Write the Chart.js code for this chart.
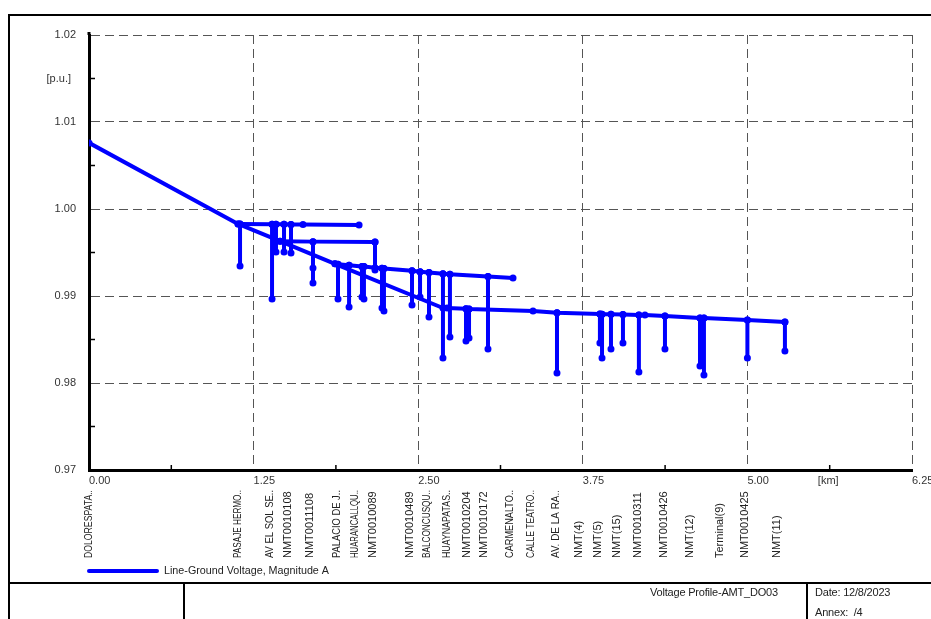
<!DOCTYPE html>
<html lang="en">
<head>
<meta charset="UTF-8" />
<title>Voltage Profile-AMT_DO03</title>
<script src="https://cdn.jsdelivr.net/npm/chart.js"></script>
<style>
  body {
    margin: 0;
    background: #fff;
    font-family: 'Liberation Sans', Arial, sans-serif;
  }
  .sheet {
    position: relative;
    width: 931px;
    height: 619px;
    overflow: hidden;
  }
  #profile {
    position: absolute;
    left: 0;
    top: 0;
  }
  .rule {
    position: absolute;
    background: #000;
  }
  .block-text {
    position: absolute;
    font-size: 11px;
    color: #222;
    white-space: nowrap;
    letter-spacing: -0.2px;
  }
</style>
</head>
<body>
<div class="sheet">
  <canvas id="profile" width="931" height="619"></canvas>

  <!-- drawing frame and title block -->
  <div class="rule" style="left:8px; top:14px; width:923px; height:2px;"></div>
  <div class="rule" style="left:8px; top:14px; width:2px; height:605px;"></div>
  <div class="rule" style="left:8px; top:582px; width:923px; height:2px;"></div>
  <div class="rule" style="left:183px; top:582px; width:2px; height:37px;"></div>
  <div class="rule" style="left:806px; top:582px; width:2px; height:37px;"></div>
  <div class="block-text" style="left:650px; top:586px;">Voltage Profile-AMT_DO03</div>
  <div class="block-text" style="left:815px; top:586px;">Date: 12/8/2023</div>
  <div class="block-text" style="left:815px; top:606px;">Annex:&nbsp; /4</div>
</div>

<script>
  // axis ranges
  const xMin = 0, xMax = 6.25, xStep = 1.25;
  const yMin = 0.97, yMax = 1.02, yStep = 0.01;
  const minorKm = [0.625, 1.875, 3.125, 4.375, 5.625];
  const minorPu = [1.015, 1.005, 0.995, 0.985, 0.975];

  // [km, p.u.] along the main feeder
  const trunk = [
    [0, 1.0076], [1.132, 0.99828], [1.451, 0.9963], [1.868, 0.9937],
    [2.688, 0.98862], [2.719, 0.98862], [2.863, 0.98854], [2.886, 0.9885],
    [3.372, 0.98828], [3.554, 0.98807], [3.880, 0.98793], [3.896, 0.9879],
    [3.964, 0.9879], [4.055, 0.98787], [4.176, 0.98782], [4.222, 0.98782],
    [4.374, 0.9877], [4.640, 0.98747], [4.670, 0.98747], [5.0, 0.98724],
    [5.285, 0.98701]
  ];

  // upper branch at ~0.9983
  const branchUpper = [
    [1.132, 0.99828], [1.147, 0.99828], [1.390, 0.99826], [1.420, 0.99825],
    [1.481, 0.99824], [1.534, 0.99823], [1.625, 0.99822], [2.051, 0.99816]
  ];

  // second branch at ~0.9962
  const branchMiddle = [
    [1.451, 0.9963], [1.701, 0.99625], [2.172, 0.99621]
  ];

  // branch at ~0.993
  const branchBand = [
    [1.868, 0.9937], [1.891, 0.99364], [1.975, 0.99354], [2.073, 0.9934],
    [2.088, 0.99338], [2.172, 0.99326], [2.225, 0.9932], [2.240, 0.99317],
    [2.453, 0.99289], [2.514, 0.9928], [2.582, 0.99271], [2.688, 0.99257],
    [2.741, 0.9925], [3.030, 0.99224], [3.220, 0.99207]
  ];

  // short spurs: [km, p.u. at branch, ...p.u. further down]
  const drops = [
    [1.147, 0.99828, 0.99345],
    [1.390, 0.99826, 0.98966],
    [1.420, 0.99825, 0.99506],
    [1.481, 0.99824, 0.99506],
    [1.534, 0.99823, 0.99494],
    [1.701, 0.99625, 0.99322, 0.99149],
    [2.172, 0.99621, 0.99299],
    [1.891, 0.99364, 0.98966],
    [1.975, 0.99354, 0.98874],
    [2.073, 0.9934, 0.98989],
    [2.088, 0.99338, 0.98966],
    [2.225, 0.9932, 0.98862],
    [2.240, 0.99317, 0.98828],
    [2.453, 0.99289, 0.98897],
    [2.514, 0.9928, 0.98989],
    [2.582, 0.99271, 0.98759],
    [2.688, 0.99257, 0.98287],
    [2.741, 0.9925, 0.98529],
    [3.030, 0.99224, 0.98391],
    [2.863, 0.98854, 0.98483],
    [2.886, 0.9885, 0.98517],
    [3.554, 0.98807, 0.98115],
    [3.880, 0.98793, 0.98460],
    [3.896, 0.9879, 0.98287],
    [3.964, 0.9879, 0.98391],
    [4.055, 0.98787, 0.98460],
    [4.176, 0.98782, 0.98126],
    [4.374, 0.9877, 0.98391],
    [4.640, 0.98747, 0.98195],
    [4.670, 0.98747, 0.98092],
    [5.0, 0.98724, 0.98287],
    [5.285, 0.98701, 0.98368]
  ];

  // terminal names under the x axis
  const nodeNames = [
    'DOLORESPATA..', 'PASAJE HERMO..', 'AV EL SOL SE..', 'NMT0010108', 'NMT0011108',
    'PALACIO DE J..', 'HUARANCALLQU..', 'NMT0010089', 'NMT0010489', 'BALCONCUSQU..',
    'HUAYNAPATAS..', 'NMT0010204', 'NMT0010172', 'CARMENALTO..', 'CALLE TEATRO..',
    'AV. DE LA RA..', 'NMT(4)', 'NMT(5)', 'NMT(15)', 'NMT0010311',
    'NMT0010426', 'NMT(12)', 'Terminal(9)', 'NMT0010425', 'NMT(11)'
  ];
  const nodeKm = [
    0, 1.132, 1.375, 1.511, 1.678,
    1.884, 2.020, 2.157, 2.437, 2.566,
    2.718, 2.870, 2.999, 3.197, 3.356,
    3.546, 3.721, 3.865, 4.009, 4.169,
    4.366, 4.564, 4.792, 4.981, 5.224
  ];

  const seriesName = 'Line-Ground Voltage, Magnitude A';
  const blue = '#0000ff';
  const font = '"Liberation Sans", Arial, sans-serif';

  function lineSet(points) {
    return {
      label: seriesName,
      data: points.map(p => ({ x: p[0], y: p[1] })),
      borderColor: blue,
      backgroundColor: blue,
      borderWidth: 4,
      borderCapStyle: 'round',
      borderJoinStyle: 'round',
      pointRadius: 3.5,
      pointBorderWidth: 0,
      pointBackgroundColor: blue,
      tension: 0,
      fill: false
    };
  }

  const datasets = [
    lineSet(trunk),
    lineSet(branchUpper),
    lineSet(branchMiddle),
    lineSet(branchBand),
    ...drops.map(d => lineSet(d.slice(1).map(v => [d[0], v])))
  ];

  const sheetDecor = {
    id: 'sheetDecor',
    afterDraw(chart) {
      const { ctx, chartArea, scales: { x, y } } = chart;
      ctx.save();

      // minor tick marks inside the plot
      ctx.strokeStyle = '#000';
      ctx.lineWidth = 1.5;
      minorPu.forEach(v => {
        const py = y.getPixelForValue(v);
        ctx.beginPath();
        ctx.moveTo(chartArea.left, py);
        ctx.lineTo(chartArea.left + 6, py);
        ctx.stroke();
      });
      minorKm.forEach(v => {
        const px = x.getPixelForValue(v);
        ctx.beginPath();
        ctx.moveTo(px, chartArea.bottom);
        ctx.lineTo(px, chartArea.bottom - 5);
        ctx.stroke();
      });

      // y axis line runs a little past the top gridline
      ctx.lineWidth = 3;
      ctx.beginPath();
      ctx.moveTo(chartArea.left, chartArea.top);
      ctx.lineTo(chartArea.left, chartArea.top - 3);
      ctx.stroke();

      // unit labels
      ctx.fillStyle = '#333';
      ctx.font = '11px ' + font;
      ctx.textAlign = 'right';
      ctx.textBaseline = 'middle';
      ctx.fillText('[p.u.]', chartArea.left - 18, y.getPixelForValue(1.015));
      ctx.textAlign = 'left';
      ctx.textBaseline = 'top';
      ctx.fillText('[km]', x.getPixelForValue(5.535), chartArea.bottom + 5);

      // rotated terminal names
      ctx.fillStyle = '#222';
      nodeNames.forEach((name, i) => {
        ctx.save();
        ctx.translate(x.getPixelForValue(nodeKm[i]), 558);
        ctx.rotate(-Math.PI / 2);
        ctx.textAlign = 'left';
        ctx.textBaseline = 'middle';
        ctx.fillText(name, 0, 0, 68);
        ctx.restore();
      });

      // legend
      ctx.strokeStyle = blue;
      ctx.lineWidth = 4;
      ctx.lineCap = 'round';
      ctx.beginPath();
      ctx.moveTo(89, 571);
      ctx.lineTo(157, 571);
      ctx.stroke();
      ctx.fillStyle = '#222';
      ctx.textAlign = 'left';
      ctx.textBaseline = 'middle';
      ctx.fillText(seriesName, 164, 571, 165);

      ctx.restore();
    }
  };

  new Chart(document.getElementById('profile'), {
    type: 'line',
    data: { datasets },
    plugins: [sheetDecor],
    options: {
      responsive: false,
      animation: false,
      layout: { padding: { left: 0, top: 35, right: 19, bottom: 0 } },
      plugins: {
        legend: { display: false },
        tooltip: { enabled: false }
      },
      scales: {
        x: {
          type: 'linear',
          min: xMin,
          max: xMax,
          afterFit(scale) {
            scale.height = 149;
            scale.paddingLeft = 0;
            scale.paddingRight = 0;
          },
          ticks: {
            stepSize: xStep,
            align: 'start',
            padding: 4,
            color: '#333',
            font: { family: font, size: 11 },
            maxRotation: 0,
            callback: v => v.toFixed(2)
          },
          grid: {
            color: '#555',
            lineWidth: 1,
            drawTicks: false
          },
          border: { display: true, color: '#000', width: 3, dash: [9, 5] }
        },
        y: {
          min: yMin,
          max: yMax,
          afterFit(scale) {
            scale.width = 89;
          },
          ticks: {
            stepSize: yStep,
            padding: 13,
            color: '#333',
            font: { family: font, size: 11 },
            callback: v => v.toFixed(2)
          },
          grid: {
            color: '#555',
            lineWidth: 1,
            drawTicks: false
          },
          border: { display: true, color: '#000', width: 3, dash: [9, 5] }
        }
      }
    }
  });
</script>
</body>
</html>
